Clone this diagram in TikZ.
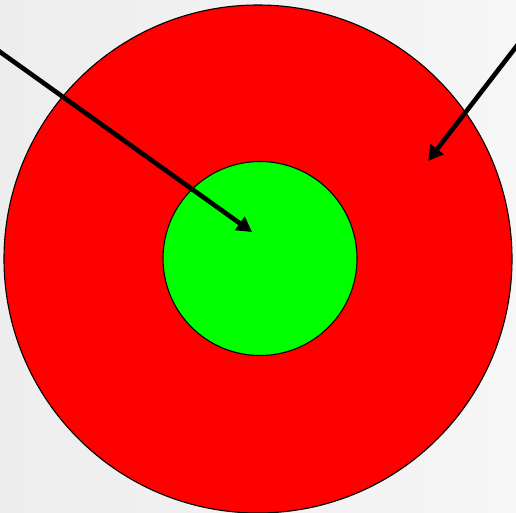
\documentclass[tikz,border=0pt]{standalone}
\usetikzlibrary{arrows.meta}
\begin{document}
\begin{tikzpicture}[x=1pt,y=-1pt,
  ring/.style={circle,draw=black,line width=1.1pt,inner sep=0pt},
  pointer/.style={line width=4.6pt,-{Triangle[length=15pt,width=16pt]}}]
\useasboundingbox (0,0) rectangle (516,512);
\shade[left color=gray!14,right color=gray!7] (0,0) rectangle (516,512);
\node[ring,fill=red,minimum size=508pt] (outer) at (258,259) {};
\node[ring,fill=green,minimum size=194pt] (inner) at (260,258.5) {};
\coordinate (s1) at (-4,49);
\coordinate (t1) at (252,232);
\coordinate (s2) at (519,43);
\coordinate (t2) at (428,161);
\draw[pointer] (s1) -- (t1);
\draw[pointer] (s2) -- (t2);
\end{tikzpicture}
\end{document}
